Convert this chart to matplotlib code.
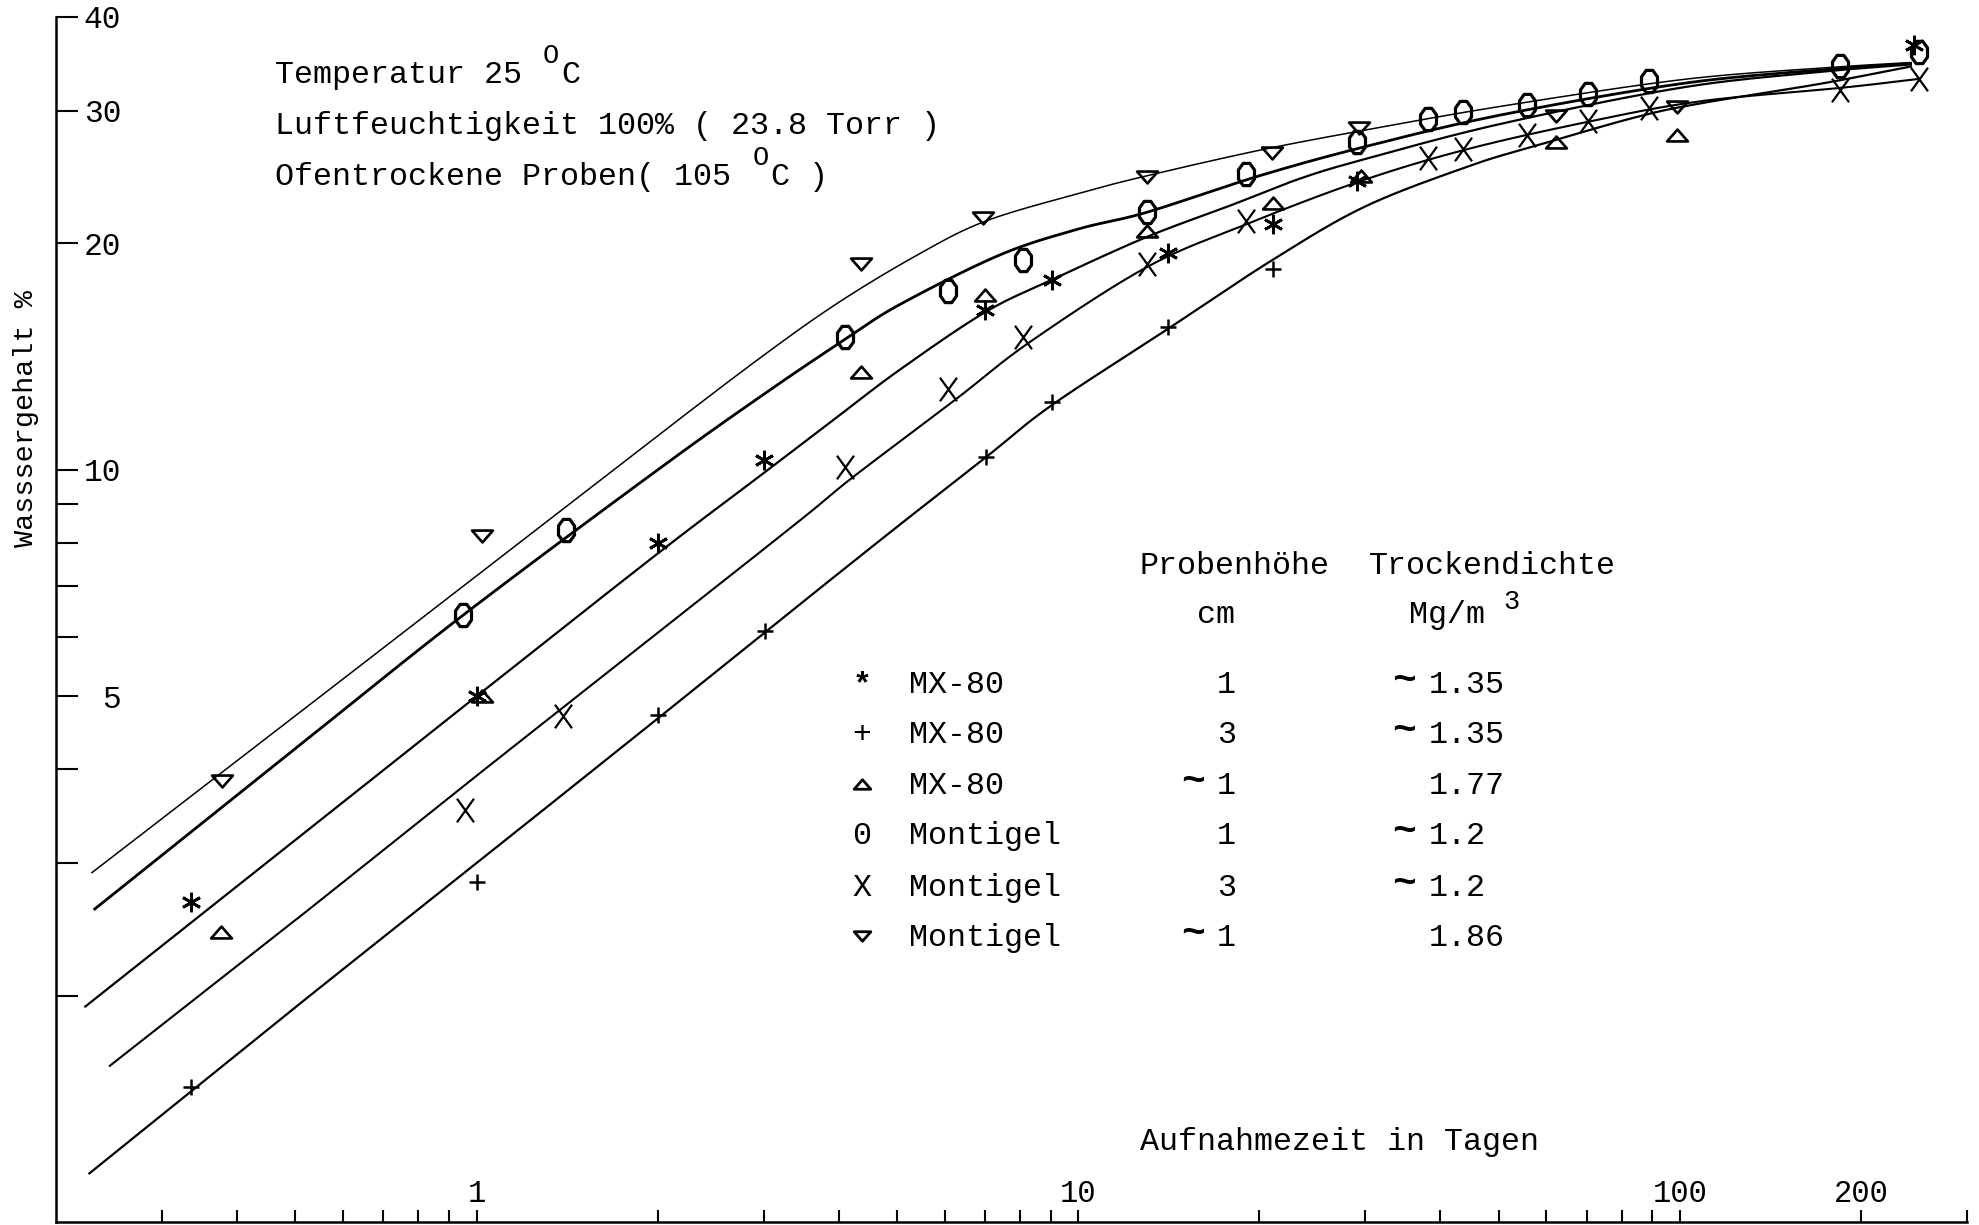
import numpy as np
import matplotlib
matplotlib.use("Agg")
import matplotlib.pyplot as plt
from matplotlib.path import Path
from matplotlib.lines import Line2D
from matplotlib.ticker import FixedLocator, FixedFormatter, NullFormatter

# --- Messwerte: Aufnahmezeit (Tage) und Wassergehalt (%) ---
t_mx80_1 = [0.335, 1.0, 2.0, 3.0, 7.0, 9.05, 14.1, 21.1, 29.1, 245]
w_mx80_1 = [2.66, 5.0, 8.0, 10.3, 16.3, 17.9, 19.4, 21.2, 24.2, 36.7]

t_mx80_3 = [0.335, 1.0, 2.0, 3.02, 7.03, 9.05, 14.1, 21.1]
w_mx80_3 = [1.51, 2.83, 4.72, 6.1, 10.4, 12.3, 15.5, 18.5]

t_mx80_177 = [0.376, 1.02, 4.36, 7.01, 13.0, 21.1, 29.5, 62.2, 98.9]
w_mx80_177 = [2.43, 5.0, 13.5, 17.1, 20.8, 22.6, 24.6, 27.3, 27.9]

t_mont_1 = [0.95, 1.41, 4.09, 6.08, 8.1, 13.0, 19.0, 29.1, 38.1, 43.6, 55.7, 70.3, 88.8, 184.5, 250]
w_mont_1 = [6.41, 8.32, 15.0, 17.3, 19.0, 22.0, 24.7, 27.3, 29.3, 29.9, 30.6, 31.6, 32.9, 34.4, 35.9]

t_mont_3 = [0.955, 1.39, 4.10, 6.08, 8.1, 13.0, 19.0, 38.1, 43.6, 55.7, 70.3, 88.8, 184.5, 250]
w_mont_3 = [3.53, 4.7, 10.1, 12.8, 15.0, 18.8, 21.4, 26.0, 26.7, 27.9, 29.1, 30.3, 32.0, 33.1]

t_mont_186 = [0.377, 1.02, 4.36, 6.95, 13.0, 21.0, 29.3, 62.2, 98.9]
w_mont_186 = [3.86, 8.17, 18.8, 21.6, 24.5, 26.4, 28.5, 29.5, 30.4]

ct_top = [0.229, 0.5, 1, 2, 3, 4, 5.4, 7, 10, 13, 20, 30, 50, 100, 170, 243]
cw_top = [2.91, 4.71, 7.23, 11.1, 14.2, 16.7, 19.3, 21.4, 23.3, 24.6, 26.6, 28.3, 30.4, 33.0, 34.2, 34.8]

ct_o = [0.231, 0.5, 0.95, 2, 3, 4.09, 5.06, 7.4, 10, 13, 20, 30, 50, 100, 170, 243]
cw_o = [2.60, 4.26, 6.41, 10.0, 12.6, 14.9, 16.6, 19.3, 20.9, 22.0, 24.6, 26.9, 29.6, 32.6, 34.0, 34.7]

ct_star = [0.223, 0.5, 1, 2, 3, 4, 5.06, 7, 9.05, 13, 18, 23.4, 30, 50, 100, 170, 243]
cw_star = [1.93, 3.22, 5.0, 7.74, 9.9, 11.8, 13.6, 16.2, 17.9, 20.4, 22.5, 24.4, 25.9, 28.8, 32.2, 33.8, 34.6]

ct_x = [0.245, 0.5, 1, 2, 3.45, 4.23, 6.25, 8.32, 13, 19, 29, 43.6, 70, 108, 185, 250]
cw_x = [1.61, 2.52, 3.92, 6.07, 8.57, 9.79, 12.4, 14.8, 18.6, 21.2, 24.1, 26.6, 29.0, 30.9, 32.2, 33.1]

ct_plus = [0.2265, 0.5, 1, 2, 3.45, 5, 7.03, 9.05, 14.1, 21, 30, 45, 57, 84, 108, 171, 243]
cw_plus = [1.158, 1.93, 3.0, 4.67, 6.63, 8.4, 10.4, 12.2, 15.4, 19.0, 22.4, 25.4, 26.9, 29.4, 30.7, 32.6, 34.4]

# --- Achsen ---
x_major = [1, 10, 100, 200]
x_major_labels = ["1", "10", "100", "200"]
x_minor = [0.3, 0.4, 0.5, 0.6, 0.7, 0.8, 0.9, 2, 3, 4, 5, 6, 7, 8, 9,
           20, 30, 40, 50, 60, 70, 80, 90, 300]
y_major = [5, 10, 20, 30, 40]
y_major_labels = ["5", "10", "20", "30", "40"]
y_minor = [2, 3, 4, 6, 7, 8, 9]

# --- Legendentabelle ---
leg_names = ["MX-80", "MX-80", "MX-80", "Montigel", "Montigel", "Montigel"]
leg_height = ["1", "3", "~1", "1", "3", "~1"]
leg_density = ["~1.35", "~1.35", "1.77", "~1.2", "~1.2", "1.86"]

plt.rcParams["font.family"] = ["Liberation Mono", "DejaVu Sans Mono"]

W, H = 1979, 1225
FS = 22.9
ADV = 0.6 * FS * 100 / 72  # Zeichenbreite der Monospace-Schrift in px


def fx(x):
    return x / W


def fy(y):
    return 1 - y / H


def catmull(xs, ys, n=30):
    # glatte Kurve durch die Stuetzpunkte im log-log-Raum
    P = np.column_stack([np.log10(xs), np.log10(ys)])
    P = np.vstack([2 * P[0] - P[1], P, 2 * P[-1] - P[-2]])
    t = np.linspace(0, 1, n, endpoint=False)[:, None]
    segs = []
    for i in range(1, len(P) - 2):
        p0, p1, p2, p3 = P[i - 1], P[i], P[i + 1], P[i + 2]
        segs.append(0.5 * (2 * p1 + (-p0 + p2) * t
                           + (2 * p0 - 5 * p1 + 4 * p2 - p3) * t ** 2
                           + (-p0 + 3 * p1 - 3 * p2 + p3) * t ** 3))
    segs.append(P[-2][None])
    out = np.vstack(segs)
    return 10 ** out[:, 0], 10 ** out[:, 1]


# Markerformen
tri_up = Path([(-1, -0.57), (1, -0.57), (0, 0.57), (-1, -0.57)],
              [Path.MOVETO, Path.LINETO, Path.LINETO, Path.CLOSEPOLY])
tri_dn = Path([(-1, 0.57), (1, 0.57), (0, -0.57), (-1, 0.57)],
              [Path.MOVETO, Path.LINETO, Path.LINETO, Path.CLOSEPOLY])
th = np.linspace(0, 2 * np.pi, 9)
oval = Path(np.column_stack([0.72 * np.cos(th + np.pi / 8), np.sin(th + np.pi / 8)]), closed=True)
cross = Path([(-0.72, -1), (0.72, 1), (-0.72, 1), (0.72, -1)],
             [Path.MOVETO, Path.LINETO, Path.MOVETO, Path.LINETO])
asterisk = (6, 2, 0)

fig = plt.figure(figsize=(W / 100, H / 100), dpi=100)
ax = fig.add_axes([fx(56), fy(1222), (1967 - 56) / W, (1222 - 17) / H])
ax.set_xscale("log")
ax.set_yscale("log")
ax.set_xlim(0.2, 300)
ax.set_ylim(1, 40)

for s in ["top", "right"]:
    ax.spines[s].set_visible(False)
for s in ["left", "bottom"]:
    ax.spines[s].set_linewidth(1.8)

ax.xaxis.set_major_locator(FixedLocator(x_major))
ax.xaxis.set_major_formatter(FixedFormatter(x_major_labels))
ax.xaxis.set_minor_locator(FixedLocator(x_minor))
ax.xaxis.set_minor_formatter(NullFormatter())
ax.yaxis.set_major_locator(FixedLocator(y_major))
ax.yaxis.set_major_formatter(FixedFormatter(y_major_labels))
ax.yaxis.set_minor_locator(FixedLocator(y_minor))
ax.yaxis.set_minor_formatter(NullFormatter())

ax.tick_params(axis="x", which="both", direction="in", length=8.5, width=1.5,
               pad=-31, labelsize=22)
ax.tick_params(axis="y", which="both", direction="in", length=16, width=1.5,
               pad=-47, labelsize=22.5)

# Kurven
for cx, cy, lw in [(ct_top, cw_top, 1.1), (ct_o, cw_o, 2.0), (ct_star, cw_star, 1.6),
                   (ct_x, cw_x, 1.5), (ct_plus, cw_plus, 1.6)]:
    sx, sy = catmull(cx, cy)
    ax.plot(sx, sy, color="black", lw=lw, solid_capstyle="butt")

# Messpunkte
series = [
    (t_mx80_1, w_mx80_1, asterisk, 14, 2.0),
    (t_mx80_3, w_mx80_3, "+", 12, 1.8),
    (t_mx80_177, w_mx80_177, tri_up, 15, 1.9),
    (t_mont_1, w_mont_1, oval, 16, 2.3),
    (t_mont_3, w_mont_3, cross, 17, 1.6),
    (t_mont_186, w_mont_186, tri_dn, 15, 1.9),
]
for tx, wy, mk, ms, mew in series:
    ax.plot(tx, wy, ls="none", marker=mk, ms=ms, mew=mew, mfc="none", mec="black",
            color="black")

# Achsbeschriftungen
ax.set_xlabel("Aufnahmezeit in Tagen", fontsize=FS, ha="left", va="baseline")
ax.xaxis.set_label_coords((1140 - 56) / 1911, (1222 - 1150) / 1205)
ax.set_ylabel("Wasssergehalt %", fontsize=20.5, va="center")
ax.yaxis.set_label_coords((26 - 56) / 1911, (1222 - 419) / 1205)


def sup_text(x, y, before, sup, after, sup_shift=0.55):
    # Text mit hochgestelltem Zeichen in einer eigenen Zeichenzelle
    fig.text(fx(x), fy(y), before, fontsize=FS, va="baseline")
    n = len(before)
    fig.text(fx(x + (n + sup_shift - 0.5) * ADV), fy(y - 0.62 * FS * 100 / 72), sup,
             fontsize=FS * 0.85, va="baseline")
    fig.text(fx(x + (n + 1) * ADV), fy(y), after, fontsize=FS, va="baseline")


def tilde_num(x_left, y, s):
    # Zahl mit vorangestelltem, kraeftigem Tilde-Zeichen
    if s.startswith("~"):
        num = s[1:]
        fig.text(fx(x_left + ADV * 0.35), fy(y - 2), "~", fontsize=FS * 1.25,
                 fontweight="bold", va="baseline", ha="right")
        fig.text(fx(x_left + ADV), fy(y), num, fontsize=FS, va="baseline")
    else:
        fig.text(fx(x_left), fy(y), s, fontsize=FS, va="baseline")


sup_text(275, 83, "Temperatur 25 ", "O", "C")
fig.text(fx(275), fy(134), "Luftfeuchtigkeit 100% ( 23.8 Torr )", fontsize=FS, va="baseline")
sup_text(275, 185, "Ofentrockene Proben( 105 ", "O", "C )")

# Legendentabelle
fig.text(fx(1140), fy(574), "Probenhöhe", fontsize=FS, va="baseline")
fig.text(fx(1369), fy(574), "Trockendichte", fontsize=FS, va="baseline")
fig.text(fx(1216), fy(623), "cm", fontsize=FS, va="baseline", ha="center")
fig.text(fx(1409), fy(623), "Mg/m", fontsize=FS, va="baseline")
fig.text(fx(1409 + 4.2 * ADV + 14), fy(609), "3", fontsize=FS * 0.85, va="baseline")

row_y = [693, 743, 794, 844, 896, 946]
sym_x = 862
sym_text = {0: "*", 1: "+", 3: "0", 4: "X"}
for i, yb in enumerate(row_y):
    if i in sym_text:
        fig.text(fx(sym_x), fy(yb), sym_text[i], fontsize=FS, va="baseline", ha="center",
                 fontweight="bold" if i == 0 else "normal")
    else:
        path = tri_up if i == 2 else tri_dn
        fig.add_artist(Line2D([fx(sym_x)], [fy(yb - 10)], transform=fig.transFigure,
                              marker=path, ms=12, mew=2.0, mfc="none", mec="black", ls="none"))
    fig.text(fx(909), fy(yb), leg_names[i], fontsize=FS, va="baseline")
    h = leg_height[i]
    tilde_num(1236 - len(h) * ADV, yb, h)
    dens = leg_density[i]
    dot_col = 1457  # Dezimalpunkte untereinander
    left = dot_col - (dens.index(".") + 0.5) * ADV
    tilde_num(left, yb, dens)

fig.savefig("out.png", dpi=100)
